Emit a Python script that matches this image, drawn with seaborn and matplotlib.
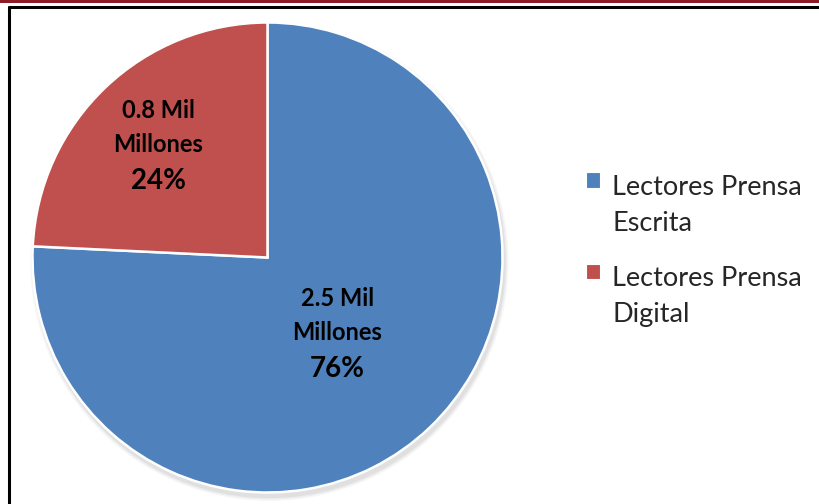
import numpy as np
import matplotlib
matplotlib.use("Agg")
import matplotlib.pyplot as plt
import matplotlib.patches as mpatches
from matplotlib.legend_handler import HandlerPatch
import seaborn as sns

categories = ["Lectores Prensa\nEscrita", "Lectores Prensa\nDigital"]
values = [2.5, 0.8]
value_labels = ["2.5 Mil\nMillones", "0.8 Mil\nMillones"]
colors = ["#4F81BD", "#C0504D"]

sns.set_theme(style="white")
plt.rcParams['font.family'] = ['Lato', 'DejaVu Sans']

fig = plt.figure(figsize=(8.2, 5.04), dpi=100)
fig.patch.set_facecolor("white")

# decorative frame: dark red band at top, black border
fig.add_artist(mpatches.Rectangle((0, 1 - 3/504), 1, 3/504, transform=fig.transFigure,
                                  facecolor="#8B1C24", edgecolor="none"))
fig.add_artist(plt.Line2D([9/820, 1.0], [1 - 7/504, 1 - 7/504], transform=fig.transFigure,
                          color="black", lw=2.2))
fig.add_artist(plt.Line2D([9/820, 9/820], [0, 1 - 7/504], transform=fig.transFigure,
                          color="black", lw=2.2))

ax = fig.add_axes([32.5/820, (504 - 257.5 - 235)/504, 470/820, 470/504])

# subtle shadow
for i, a in enumerate([0.05, 0.04, 0.03]):
    ax.add_patch(mpatches.Circle((0.008, -0.018), 1.0 + 0.006 * (i + 1), facecolor="black",
                                 alpha=a, edgecolor="none", zorder=0, clip_on=False))

wedges, _ = ax.pie(values, colors=colors, startangle=90, counterclock=False,
                   wedgeprops=dict(edgecolor="white", linewidth=1.8), radius=1.0)
for w in wedges:
    w.set_zorder(2)
    w.set_clip_on(False)

total = sum(values)
dists = [0.43, 0.675]
for w, v, lab, d in zip(wedges, values, value_labels, dists):
    ang = np.deg2rad((w.theta1 + w.theta2) / 2)
    x, y = d * np.cos(ang), d * np.sin(ang)
    ax.text(x, y - 0.057, lab, ha="center", va="bottom", fontsize=17, fontweight="bold",
            linespacing=1.6, color="black", zorder=3)
    ax.text(x, y - 0.162, f"{round(v / total * 100)}%", ha="center", va="center",
            fontsize=20, fontweight="bold", color="black", zorder=3)

ax.set_xlim(-1.0, 1.0)
ax.set_ylim(-1.0, 1.0)
ax.set_aspect("equal")
ax.axis("off")


def top_square(legend, orig_handle, xdescent, ydescent, width, height, fontsize):
    return mpatches.Rectangle((-xdescent, -ydescent + 0.95 * fontsize), width, height)


handles = [mpatches.Patch(facecolor=c, edgecolor="white", linewidth=0.8) for c in colors]
leg = fig.legend(handles, categories, loc="center left", bbox_to_anchor=(562/820, 1 - 251/504),
                 frameon=False, fontsize=19.5, handlelength=0.5, handleheight=0.5,
                 handletextpad=0.45, labelspacing=1.12,
                 handler_map={mpatches.Patch: HandlerPatch(patch_func=top_square)})
for t in leg.get_texts():
    t.set_linespacing(1.55)

fig.savefig("out.png", dpi=100, facecolor="white")
